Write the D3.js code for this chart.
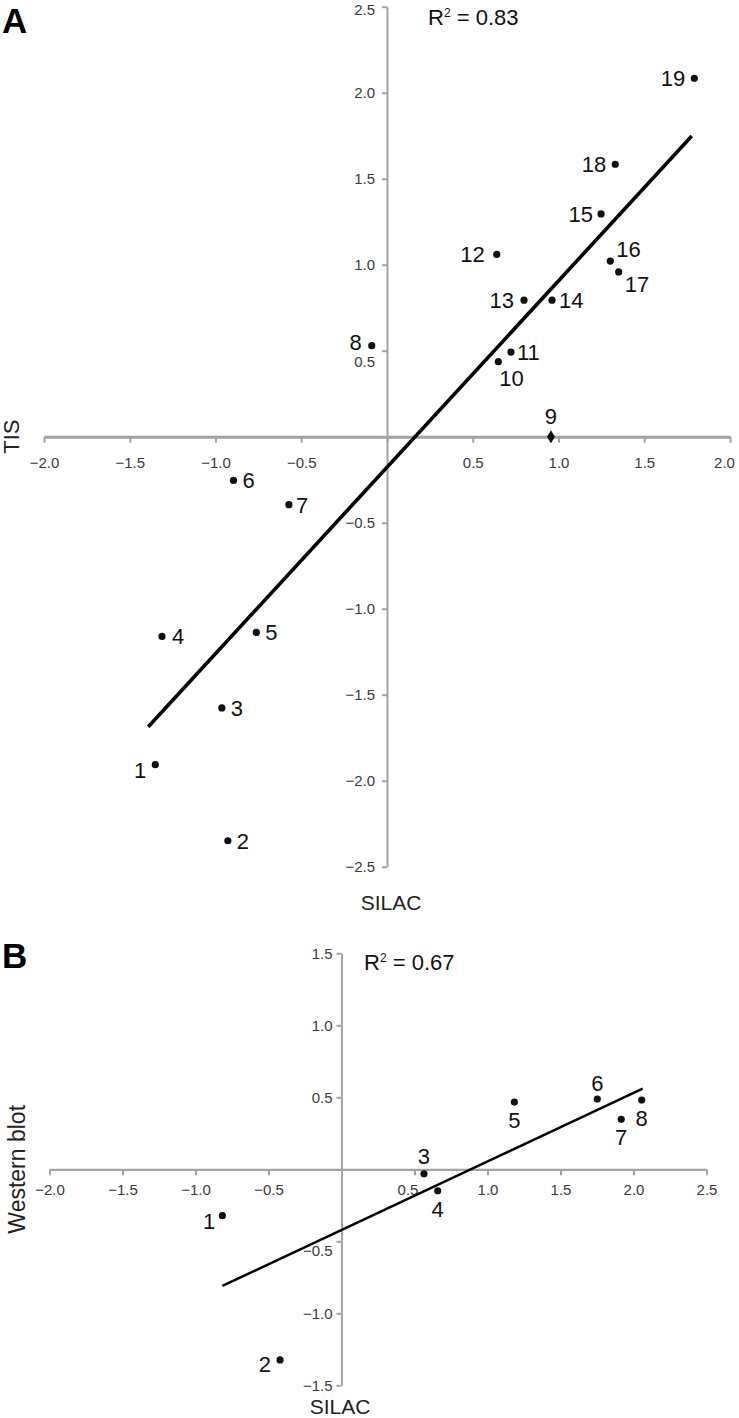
<!DOCTYPE html>
<html><head><meta charset="utf-8">
<script src="https://cdn.jsdelivr.net/npm/d3@7"></script>
<style>
html,body{margin:0;padding:0;background:#fff;}
svg{display:block;font-family:"Liberation Sans",Arial,Helvetica,sans-serif;}
</style></head><body>
<svg id="chart" width="739" height="1418"></svg>
<script>
// ---------- Panel A data (SILAC vs TIS) ----------
const labelsA = ["1","2","3","4","5","6","7","8","9","10","11","12","13","14","15","16","17","18","19"];
const silacA  = [-1.351,-0.928,-0.963,-1.312,-0.762,-0.895,-0.572,-0.089,0.956,0.649,0.723,0.640,0.799,0.962,1.248,1.302,1.351,1.331,1.792];
const tisA    = [-1.907,-2.349,-1.577,-1.161,-1.138,-0.254,-0.395,0.529,0.000,0.436,0.492,1.060,0.794,0.794,1.295,1.021,0.958,1.584,2.084];
const fitXA   = [-1.392, 1.777];
const fitYA   = [-1.686, 1.748];
const xTicksA = [-2.0,-1.5,-1.0,-0.5,0,0.5,1.0,1.5,2.0];
const yTicksA = [-2.5,-2.0,-1.5,-1.0,-0.5,0,0.5,1.0,1.5,2.0,2.5];
const r2A = "0.83";

// ---------- Panel B data (SILAC vs Western blot) ----------
const labelsB = ["1","2","3","4","5","6","7","8"];
const silacB  = [-0.816,-0.421,0.565,0.659,1.184,1.752,1.916,2.056];
const wbB     = [-0.322,-1.324,-0.031,-0.149,0.467,0.488,0.347,0.481];
const fitXB   = [-0.816, 2.063];
const fitYB   = [-0.810, 0.560];
const xTicksB = [-2.0,-1.5,-1.0,-0.5,0,0.5,1.0,1.5,2.0,2.5];
const yTicksB = [-1.5,-1.0,-0.5,0,0.5,1.0,1.5];
const r2B = "0.67";

// ---------- label placement (layout, not data) ----------
const placeA = {
  "1":["end",-9,13], "2":["start",9,8], "3":["start",9,8], "4":["start",10,8],
  "5":["start",9,8], "6":["start",9,8], "7":["start",7,8], "8":["end",-10,4],
  "9":["middle",0,-13], "10":["start",1,24], "11":["start",6,8], "12":["end",-12,8],
  "13":["end",-10,8], "14":["start",7,8], "15":["end",-8,8], "16":["start",6,-4],
  "17":["start",6,20], "18":["end",-9,8], "19":["end",-9,8]
};
const placeB = {
  "1":["end",-7,13], "2":["end",-9,12], "3":["middle",0,-10], "4":["middle",0,26],
  "5":["middle",0,26], "6":["middle",0,-8], "7":["middle",0,26], "8":["middle",0,26]
};

const svg = d3.select("#chart");
const AXIS = "#a3a3a3", TXT = "#3a3a3a";
const fmt = d3.format(".1f");

function drawPanel(cfg){
  const g = svg.append("g");
  const x = cfg.x, y = cfg.y;
  // x axis
  const xa = g.append("g").attr("transform",`translate(0,${y(0)})`)
    .call(d3.axisBottom(x).tickValues(cfg.xTicks).tickSize(6).tickSizeOuter(0)
      .tickPadding(cfg.xPad).tickFormat(d => d===0 ? "" : fmt(d)));
  xa.select(".domain").attr("stroke",AXIS).attr("stroke-width",cfg.xAxisW);
  xa.selectAll(".tick line").attr("stroke",AXIS).attr("stroke-width",2);
  xa.selectAll(".tick text").attr("fill",TXT).style("font-size","15px")
    .style("font-family",'"Liberation Sans",Arial,sans-serif');
  // y axis
  const ya = g.append("g").attr("transform",`translate(${x(0)},0)`)
    .call(d3.axisLeft(y).tickValues(cfg.yTicks).tickSize(5).tickSizeOuter(0)
      .tickPadding(cfg.yPad).tickFormat(d => d===0 ? "" : fmt(d)));
  ya.select(".domain").attr("stroke",AXIS).attr("stroke-width",2);
  ya.selectAll(".tick line").attr("stroke",AXIS).attr("stroke-width",2);
  ya.selectAll(".tick text").attr("fill",TXT).style("font-size","15px")
    .style("font-family",'"Liberation Sans",Arial,sans-serif');
  if (cfg.tweak) cfg.tweak(xa, ya);

  // regression line
  g.append("line")
    .attr("x1",x(cfg.fitX[0])).attr("y1",y(cfg.fitY[0]))
    .attr("x2",x(cfg.fitX[1])).attr("y2",y(cfg.fitY[1]))
    .attr("stroke","#000").attr("stroke-width",cfg.lineW);

  // points
  const pts = cfg.labels.map((l,i)=>({l, sx:cfg.xs[i], sy:cfg.ys[i]}));
  pts.forEach(p=>{
    const px = x(p.sx), py = y(p.sy);
    if (cfg.diamond && cfg.diamond === p.l){
      g.append("path").attr("d",`M${px},${py-6.5}L${px+4},${py}L${px},${py+6.5}L${px-4},${py}Z`).attr("fill","#111");
    } else {
      g.append("circle").attr("cx",px).attr("cy",py).attr("r",3.6).attr("fill","#111");
    }
    const pl = cfg.place[p.l];
    g.append("text").attr("x",px+pl[1]).attr("y",py+pl[2]).attr("text-anchor",pl[0])
      .attr("fill","#111").style("font-size","22px").text(p.l);
  });

  // R^2
  const r = g.append("text").attr("x",cfg.r2x).attr("y",cfg.r2y).attr("fill","#111").style("font-size","22px");
  r.append("tspan").text("R");
  r.append("tspan").attr("dy",-8).style("font-size","12px").text("2");
  r.append("tspan").attr("dy",8).text(" = " + cfg.r2);

  // panel letter
  g.append("text").attr("x",cfg.letterX).attr("y",cfg.letterY).attr("fill","#000")
    .style("font-size",cfg.letterSize+"px").style("font-weight","bold").text(cfg.letter);

  // axis titles
  g.append("text").attr("x",cfg.xTitleX).attr("y",cfg.xTitleY).attr("text-anchor","middle")
    .attr("fill","#222").style("font-size","21px").text("SILAC");
  g.append("text").attr("transform",`translate(${cfg.yTitleX},${y(0)}) rotate(-90)`)
    .attr("text-anchor","middle").attr("fill","#222").style("font-size",cfg.yTitleSize+"px").text(cfg.yTitle);
}

drawPanel({
  x: d3.scaleLinear().domain([-2,2]).range([44,730]),
  y: d3.scaleLinear().domain([-2.5,2.5]).range([866.7,6.7]),
  xTicks:xTicksA, yTicks:yTicksA, xPad:15, yPad:7, xAxisW:3,
  fitX:fitXA, fitY:fitYA, lineW:3.6,
  labels:labelsA, xs:silacA, ys:tisA, place:placeA, diamond:"9",
  r2:r2A, r2x:428, r2y:25,
  letter:"A", letterX:2, letterY:33, letterSize:35,
  xTitleX:391, xTitleY:910, yTitle:"TIS", yTitleX:19, yTitleSize:22,
  tweak:(xa,ya)=>{
    ya.selectAll(".tick").filter(d=>d===0.5).select("text").attr("dy","1.05em");
    ya.selectAll(".tick").filter(d=>d===2.5).select("text").attr("dy","0.5em");
    xa.selectAll(".tick").filter(d=>d===2.0).select("text").attr("dx","-6");
  }
});

drawPanel({
  x: d3.scaleLinear().domain([-2,2.5]).range([49.5,706.5]),
  y: d3.scaleLinear().domain([-1.5,1.5]).range([1385.3,953.3]),
  xTicks:xTicksB, yTicks:yTicksB, xPad:9, yPad:4, xAxisW:2.2,
  fitX:fitXB, fitY:fitYB, lineW:2.5,
  labels:labelsB, xs:silacB, ys:wbB, place:placeB, diamond:null,
  r2:r2B, r2x:364, r2y:970,
  letter:"B", letterX:2, letterY:968, letterSize:35,
  xTitleX:340, xTitleY:1414, yTitle:"Western blot", yTitleX:25, yTitleSize:23,
  tweak:(xa,ya)=>{
    xa.selectAll(".tick").filter(d=>d===0.5).select("text").attr("dx","-7");
    ya.selectAll(".tick").filter(d=>d===-0.5).select("text").attr("dy","0.95em");
  }
});
</script>
</body></html>
